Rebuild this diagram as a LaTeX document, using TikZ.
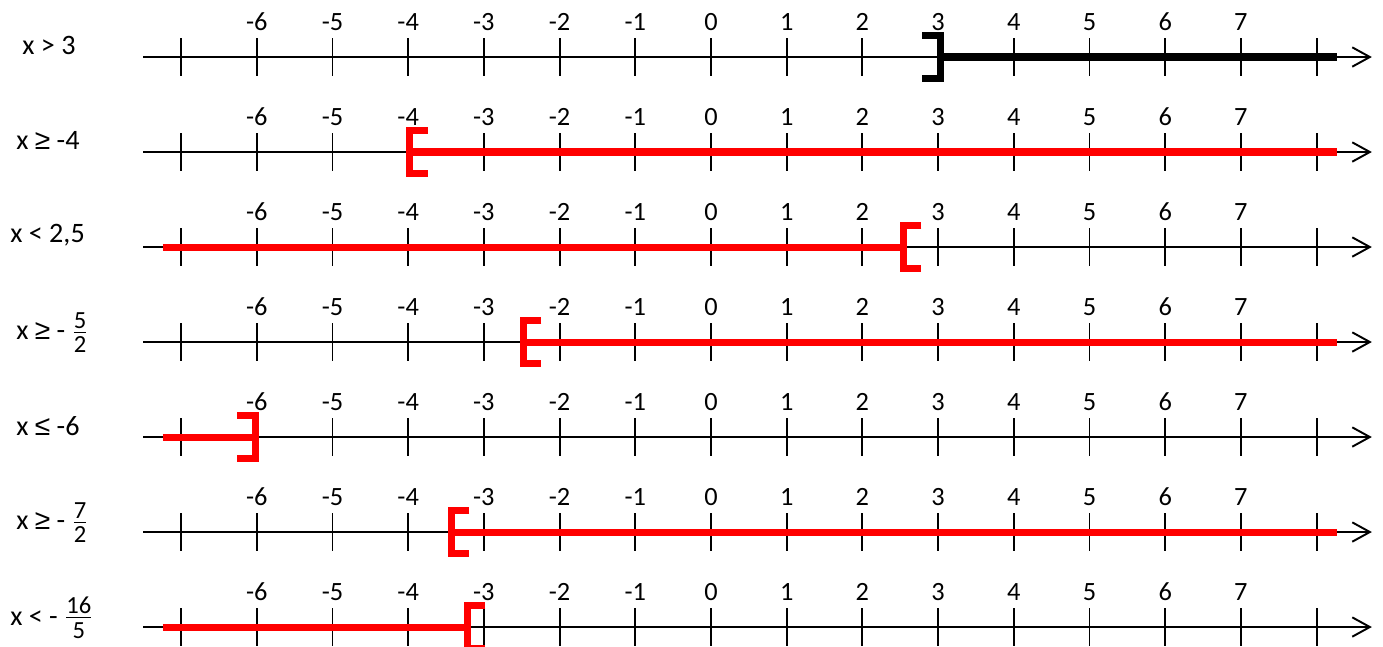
\documentclass[tikz,border=0pt]{standalone}
\usepackage{fontspec}
\setmainfont{Carlito}
\newfontfamily\symfont{Liberation Sans}
\usetikzlibrary{arrows.meta}
\tikzset{
  axis/.style={
    line width=1.1pt,
    -{Straight Barb[length=10pt,width=11pt,line width=1.1pt]}
  },
  tick/.style={
    line width=1.1pt
  },
  num/.style={
    font=\fontsize{15}{18}\selectfont,
    inner sep=0pt
  },
  ineq/.style={
    font=\fontsize{16}{19}\selectfont,
    inner sep=0pt,
    anchor=west
  },
  sol/.style={
    draw=#1,
    line width=4pt
  },
  sol/.default=red,
}
% bracket with its arms to the right, and to the left
\newcommand{\brkleft}[3][red]{\draw[sol=#1,miter limit=10] (#2+0.24,#3+0.23) -- ++(-0.24,0) -- ++(0,-0.46) -- ++(0.24,0);}
\newcommand{\brkright}[3][red]{\draw[sol=#1,miter limit=10] (#2-0.24,#3+0.23) -- ++(0.24,0) -- ++(0,-0.46) -- ++(-0.24,0);}
\newcommand{\fr}[2]{$\frac{\mbox{\fontsize{14}{15}\selectfont #1}\rule[-1pt]{0pt}{1pt}}{\mbox{\fontsize{14}{15}\selectfont #2}\rule{0pt}{11pt}}$}
\newcommand{\geqs}{{\symfont ≥}}
\newcommand{\leqs}{{\symfont ≤}}

\begin{document}
\begin{tikzpicture}[x=1.514cm,y=1.9cm]
  \useasboundingbox (-9.392,0.6) rectangle (8.877,-6.2);
  \foreach \r in {0,...,6}{
    \draw[axis] (-7.5,-\r) coordinate (s\r) -- (8.73,-\r) coordinate (e\r);
    \foreach \x in {-7,...,8}
      \draw[tick] (\x,-\r+0.2) -- (\x,-\r-0.2);
    \foreach \x [count=\i] in {-6,...,7}
      \node[num] (n\r\i) at (\x,-\r+0.37) {\x};
  }
  % the inequalities
  \node[ineq] (q0) at (-9.10,0.12) {x > 3};
  \node[ineq] (q1) at (-9.18,-0.88) {x \geqs{} -4};
  \node[ineq] (q2) at (-9.26,-1.88) {x < 2,5};
  \node[ineq] (q3) at (-9.18,-2.9) {x \geqs{} - \fr{5}{2}};
  \node[ineq] (q4) at (-9.18,-3.88) {x \leqs{} -6};
  \node[ineq] (q5) at (-9.18,-4.9) {x \geqs{} - \fr{7}{2}};
  \node[ineq] (q6) at (-9.26,-5.9) {x < - \fr{16}{5}};
  % the solutions
  \draw[sol=black] (3.03,0) -- (8.27,0);
  \brkright[black]{3.03}{0}
  \draw[sol] (-3.98,-1) -- (8.27,-1);
  \brkleft{-3.98}{-1}
  \draw[sol] (-7.24,-2) -- (2.54,-2);
  \brkleft{2.54}{-2}
  \draw[sol] (-2.48,-3) -- (8.27,-3);
  \brkleft{-2.48}{-3}
  \draw[sol] (-7.24,-4) -- (-6.02,-4);
  \brkright{-6.02}{-4}
  \draw[sol] (-3.43,-5) -- (8.27,-5);
  \brkleft{-3.43}{-5}
  \draw[sol] (-7.24,-6) -- (-3.22,-6);
  \brkleft{-3.22}{-6}
\end{tikzpicture}
\end{document}
